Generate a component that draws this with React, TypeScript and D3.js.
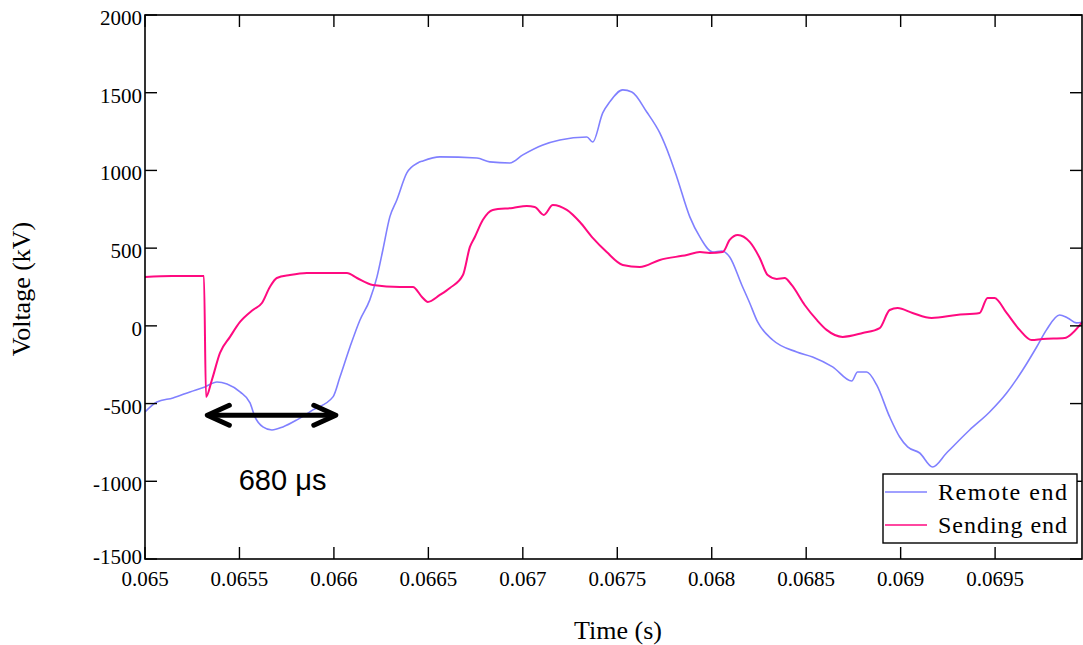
import React from "react";
import * as d3 from "d3";

// Remote-end voltage trace (time in s, voltage in kV)
const remoteTime = [
  0.065, 0.065063, 0.065148, 0.065238, 0.065317, 0.065381, 0.065434, 0.065503, 0.065556, 0.065582,
  0.065624, 0.065672, 0.06573, 0.065804, 0.065889, 0.065995, 0.066032, 0.066085, 0.066138, 0.06619,
  0.066228, 0.066259, 0.066296, 0.066333, 0.066386, 0.066444, 0.066471, 0.066561, 0.066757, 0.066825,
  0.066931, 0.067, 0.067106, 0.067196, 0.067339, 0.06737, 0.067423, 0.06746, 0.067529, 0.067577,
  0.067656, 0.067725, 0.067778, 0.067815, 0.067884, 0.067937, 0.068005, 0.068053, 0.068095, 0.068159,
  0.068201, 0.068243, 0.068323, 0.06845, 0.068534, 0.06864, 0.068741, 0.068772, 0.06882, 0.068873,
  0.068942, 0.068995, 0.069037, 0.069101, 0.069169, 0.069243, 0.069365, 0.069471, 0.069561, 0.069646,
  0.06972, 0.069772, 0.069841, 0.069884, 0.069931, 0.069963,
];
const remoteKV = [
  -554, -490, -464, -425, -393, -361, -374, -425, -496, -586,
  -650, -670, -650, -605, -541, -457, -329, -136, 38, 167,
  315, 488, 701, 810, 984, 1048, 1061, 1087, 1080, 1055,
  1048, 1100, 1164, 1196, 1215, 1183, 1370, 1441, 1518, 1505,
  1376, 1241, 1087, 958, 701, 572, 475, 482, 443, 263,
  147, 25, -91, -168, -200, -264, -355, -297, -297, -380,
  -586, -715, -779, -818, -908, -818, -670, -554, -432, -284,
  -136, -26, 70, 51, 19, 25,
];

// Sending-end voltage trace (time in s, voltage in kV)
const sendingTime = [
  0.065, 0.065143, 0.065312, 0.065323, 0.065354, 0.065397, 0.06545, 0.065503, 0.065571, 0.065619,
  0.065661, 0.065698, 0.065767, 0.065857, 0.066069, 0.066122, 0.066206, 0.066349, 0.066418, 0.066466,
  0.066497, 0.066561, 0.066614, 0.066683, 0.06672, 0.066746, 0.066788, 0.066841, 0.066947, 0.067021,
  0.067063, 0.067111, 0.067159, 0.067233, 0.067302, 0.06737, 0.067444, 0.067529, 0.067619, 0.067725,
  0.067868, 0.067937, 0.067989, 0.068058, 0.068095, 0.068138, 0.068201, 0.068254, 0.068296, 0.068344,
  0.068386, 0.068423, 0.068492, 0.068556, 0.068608, 0.068693, 0.068799, 0.068889, 0.068942, 0.068984,
  0.069063, 0.069164, 0.069296, 0.069418, 0.06946, 0.069497, 0.069561, 0.06963, 0.069693, 0.069751,
  0.069868, 0.06991, 0.069958,
];
const sendingKV = [
  315, 321, 321, -457, -348, -174, -71, 25, 102, 147,
  250, 308, 327, 340, 340, 308, 263, 250, 250, 186,
  154, 199, 244, 327, 508, 572, 681, 746, 759, 771,
  765, 714, 778, 746, 668, 566, 475, 392, 379, 424,
  456, 475, 469, 475, 553, 585, 540, 437, 327, 302,
  308, 263, 134, 38, -26, -71, -46, -14, 102, 115,
  83, 51, 70, 83, 180, 180, 83, -26, -91, -84,
  -78, -46, 19,
];

const xTicks = [0.065, 0.0655, 0.066, 0.0665, 0.067, 0.0675, 0.068, 0.0685, 0.069, 0.0695];
const xTickLabels = ["0.065", "0.0655", "0.066", "0.0665", "0.067", "0.0675", "0.068", "0.0685", "0.069", "0.0695"];
const yTicks = [-1500, -1000, -500, 0, 500, 1000, 1500, 2000];

const seriesNames = ["Remote end", "Sending end"];
const seriesColors = ["#8080ff", "#ff0a80"];

// Travel-time marker: start time, duration and voltage level of the arrow
const markerStart = 0.06533;
const markerDuration = 0.00068;
const markerKV = -575;
const markerLabel = "680 μs";

const W = 1083;
const H = 645;
const left = 145;
const right = 1082;
const top = 15;
const bottom = 559;

export default function App() {
  const x = d3.scaleLinear().domain([0.065, 0.06996]).range([left, right]);
  const y = d3.scaleLinear().domain([-1500, 2000]).range([bottom, top]);

  const line = d3
    .line<[number, number]>()
    .x((d) => x(d[0]))
    .y((d) => y(d[1]))
    .curve(d3.curveMonotoneX);

  const remote: [number, number][] = remoteTime.map((t, i) => [t, remoteKV[i]]);
  const sending: [number, number][] = sendingTime.map((t, i) => [t, sendingKV[i]]);

  const serif = "'Liberation Serif', 'Times New Roman', serif";
  const tickLen = 12;

  const ax0 = x(markerStart);
  const ax1 = x(markerStart + markerDuration);
  const ay = y(markerKV);
  const head = 22;

  const legX = 883;
  const legY = 474;
  const legW = 194;
  const legH = 69;

  return (
    <svg
      width={W}
      height={H}
      style={{ position: "absolute", left: 0, top: 0, background: "#fff" }}
      fontFamily={serif}
    >
      <rect x={0} y={0} width={W} height={H} fill="#fff" />
      <defs>
        <clipPath id="plotClip">
          <rect x={left} y={top} width={right - left + 1} height={bottom - top} />
        </clipPath>
      </defs>

      {/* data traces */}
      <g clipPath="url(#plotClip)">
        <path d={line(remote) || ""} fill="none" stroke={seriesColors[0]} strokeWidth={1.6} />
        <path d={line(sending) || ""} fill="none" stroke={seriesColors[1]} strokeWidth={2} />
      </g>

      {/* frame */}
      <rect x={left} y={top} width={right - left} height={bottom - top} fill="none" stroke="#000" strokeWidth={1.6} />

      {/* x ticks */}
      {xTicks.map((t, i) => (
        <g key={"xt" + i}>
          <line x1={x(t)} x2={x(t)} y1={bottom} y2={bottom - tickLen} stroke="#000" strokeWidth={1.4} />
          <line x1={x(t)} x2={x(t)} y1={top} y2={top + tickLen} stroke="#000" strokeWidth={1.4} />
          <text x={x(t)} y={bottom + 27} textAnchor="middle" fontSize={21}>
            {xTickLabels[i]}
          </text>
        </g>
      ))}

      {/* y ticks */}
      {yTicks.map((v) => (
        <g key={"yt" + v}>
          <line x1={left} x2={left + tickLen} y1={y(v)} y2={y(v)} stroke="#000" strokeWidth={1.4} />
          <line x1={right} x2={right - tickLen} y1={y(v)} y2={y(v)} stroke="#000" strokeWidth={1.4} />
          <text x={left - 3} y={y(v) + (v === -1500 ? 5 : 10)} textAnchor="end" fontSize={21}>
            {String(v)}
          </text>
        </g>
      ))}

      {/* axis titles */}
      <text x={618} y={639} textAnchor="middle" fontSize={26}>
        Time (s)
      </text>
      <text transform={`translate(30, ${(top + bottom) / 2 + 2}) rotate(-90)`} textAnchor="middle" fontSize={26}>
        Voltage (kV)
      </text>

      {/* double-headed arrow */}
      <g stroke="#000" strokeWidth={5} strokeLinecap="round" strokeLinejoin="round" fill="none">
        <line x1={ax0 + 2} x2={ax1 - 2} y1={ay} y2={ay} />
        <polyline points={`${ax0 + head},${ay - 10} ${ax0},${ay} ${ax0 + head},${ay + 10}`} />
        <polyline points={`${ax1 - head},${ay - 10} ${ax1},${ay} ${ax1 - head},${ay + 10}`} />
      </g>
      <text
        x={(ax0 + ax1) / 2 + 11}
        y={ay + 75}
        textAnchor="middle"
        fontSize={29}
        fontFamily="'Liberation Sans', Arial, sans-serif"
      >
        {markerLabel}
      </text>

      {/* legend */}
      <rect x={legX} y={legY} width={legW} height={legH} fill="#fff" stroke="#000" strokeWidth={1.4} />
      {seriesNames.map((name, i) => {
        const ly = legY + 18 + i * 33;
        return (
          <g key={name}>
            <line x1={legX + 2} x2={legX + 44} y1={ly} y2={ly} stroke={seriesColors[i]} strokeWidth={1.6} />
            <text x={legX + 55} y={ly + 8} fontSize={24} textLength={129} lengthAdjust="spacing">
              {name}
            </text>
          </g>
        );
      })}
    </svg>
  );
}
